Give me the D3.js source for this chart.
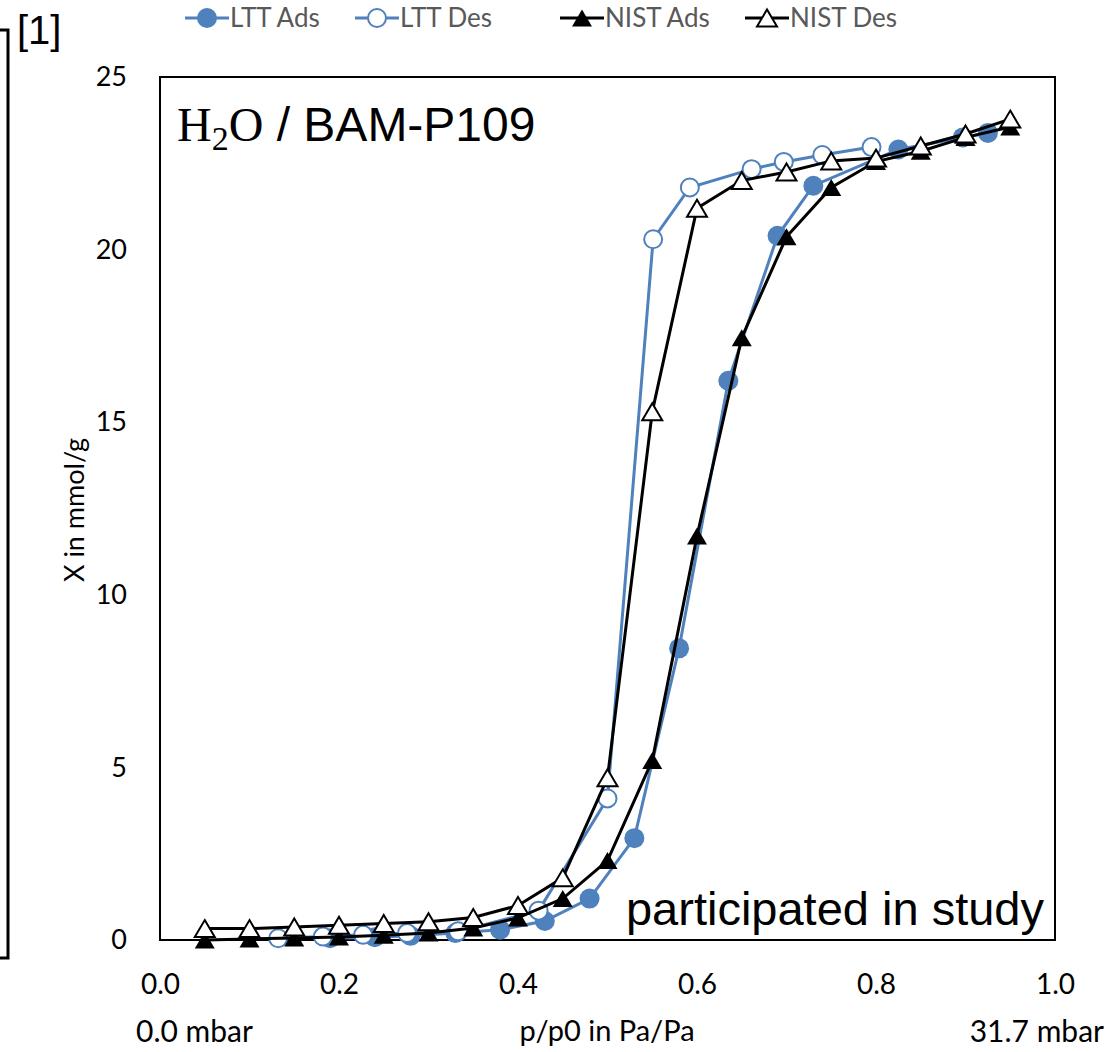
<!DOCTYPE html>
<html>
<head>
<meta charset="utf-8">
<script src="https://d3js.org/d3.v7.min.js"></script>
<style>
  body { margin:0; background:#fff; }
  svg text { font-family: Lato, "Open Sans", sans-serif; }
</style>
</head>
<body>
<div id="chart"></div>
<script>
// data
var lttAdsX = [0.19, 0.24, 0.28, 0.33, 0.38, 0.43, 0.48, 0.53, 0.58, 0.635, 0.69, 0.73, 0.825, 0.897, 0.925];
var lttAdsY = [0.05, 0.08, 0.12, 0.2, 0.3, 0.55, 1.2, 2.95, 8.45, 16.2, 20.4, 21.85, 22.9, 23.25, 23.38];

var lttDesX = [0.132, 0.182, 0.227, 0.276, 0.333, 0.423, 0.50, 0.551, 0.592, 0.661, 0.697, 0.74, 0.795];
var lttDesY = [0.05, 0.1, 0.15, 0.2, 0.25, 0.85, 4.1, 20.3, 21.8, 22.33, 22.54, 22.74, 22.97];

var nistX = [0.05, 0.10, 0.15, 0.20, 0.25, 0.30, 0.35, 0.40, 0.45, 0.50, 0.55, 0.60, 0.65, 0.70, 0.75, 0.80, 0.85, 0.90, 0.95];
var nistAdsY = [0.0, 0.03, 0.06, 0.09, 0.14, 0.2, 0.35, 0.64, 1.2, 2.3, 5.2, 11.7, 17.45, 20.37, 21.8, 22.55, 22.85, 23.25, 23.55];
var nistDesY = [0.33, 0.33, 0.38, 0.43, 0.48, 0.53, 0.65, 1.0, 1.8, 4.7, 15.3, 21.2, 22.0, 22.25, 22.57, 22.65, 23.0, 23.35, 23.78];

var legendNames = ["LTT Ads", "LTT Des", "NIST Ads", "NIST Des"];
var yTicks = [0, 5, 10, 15, 20, 25];
var xTicks = [0, 0.2, 0.4, 0.6, 0.8, 1.0];

var W = 1109, H = 1052;
var blue = "#4f81bd";

var svg = d3.select("#chart").append("svg")
  .attr("width", W).attr("height", H);

var x = d3.scaleLinear().domain([0, 1]).range([160, 1055]);
var y = d3.scaleLinear().domain([0, 25]).range([940, 77]);

// plot frame
svg.append("rect")
  .attr("x", x(0)).attr("y", y(25))
  .attr("width", x(1) - x(0)).attr("height", y(0) - y(25))
  .attr("fill", "none").attr("stroke", "#000").attr("stroke-width", 2);

// axes
var gy = svg.append("g")
  .attr("transform", "translate(" + x(0) + ",0)")
  .call(d3.axisLeft(y).tickValues(yTicks).tickSize(0).tickPadding(33));
gy.select(".domain").remove();
gy.selectAll("text").style("font-size", "27px").style("fill", "#000")
  .style("font-family", "Lato, sans-serif");

var gx = svg.append("g")
  .attr("transform", "translate(0," + y(0) + ")")
  .call(d3.axisBottom(x).tickValues(xTicks).tickSize(0).tickPadding(34).tickFormat(d3.format(".1f")));
gx.select(".domain").remove();
gx.selectAll("text").style("font-size", "28px").style("fill", "#000")
  .style("font-family", "Lato, sans-serif");

// axis titles
svg.append("text")
  .attr("transform", "translate(84,510) rotate(-90)")
  .attr("text-anchor", "middle")
  .style("font-size", "27px")
  .text("X in mmol/g");

svg.append("text")
  .attr("x", 607).attr("y", 1041)
  .attr("text-anchor", "middle")
  .style("font-size", "29px")
  .text("p/p0 in Pa/Pa");

svg.append("text")
  .attr("x", 136).attr("y", 1042)
  .style("font-size", "30px")
  .text("0.0 mbar");

svg.append("text")
  .attr("x", 1104).attr("y", 1042)
  .attr("text-anchor", "end")
  .style("font-size", "30px")
  .text("31.7 mbar");

// triangle centred on its bounding box, like the spreadsheet marker
function tri(w, h) {
  var p = d3.path();
  p.moveTo(0, -h / 2);
  p.lineTo(w / 2, h / 2);
  p.lineTo(-w / 2, h / 2);
  p.closePath();
  return p.toString();
}

var line = d3.line().x(function(d) { return x(d[0]); }).y(function(d) { return y(d[1]); });

var series = [
  {xs: lttAdsX, ys: lttAdsY, color: blue, marker: "dot"},
  {xs: lttDesX, ys: lttDesY, color: blue, marker: "ring"},
  {xs: nistX, ys: nistAdsY, color: "#000", marker: "triFill"},
  {xs: nistX, ys: nistDesY, color: "#000", marker: "triOpen"}
];

function drawMarker(g, type, color) {
  if (type == "dot") {
    g.append("circle").attr("r", 10).attr("fill", color);
  } else if (type == "ring") {
    g.append("circle").attr("r", 9).attr("fill", "#fff")
      .attr("stroke", color).attr("stroke-width", 2);
  } else if (type == "triFill") {
    g.append("path").attr("d", tri(20, 17)).attr("fill", "#000");
  } else {
    g.append("path").attr("d", tri(20, 17)).attr("fill", "#fff")
      .attr("stroke", "#000").attr("stroke-width", 2);
  }
}

series.forEach(function(s) {
  var pts = s.xs.map(function(v, i) { return [v, s.ys[i]]; });
  svg.append("path")
    .datum(pts)
    .attr("d", line)
    .attr("fill", "none")
    .attr("stroke", s.color)
    .attr("stroke-width", 3);
  pts.forEach(function(p) {
    var g = svg.append("g").attr("transform", "translate(" + x(p[0]) + "," + y(p[1]) + ")");
    drawMarker(g, s.marker, s.color);
  });
});

// legend
var legX = [185, 355, 560, 745];
legendNames.forEach(function(name, i) {
  var s = series[i];
  var g = svg.append("g").attr("transform", "translate(" + legX[i] + ",18)");
  g.append("line").attr("x1", 0).attr("x2", 44).attr("y1", 0).attr("y2", 0)
    .attr("stroke", s.color).attr("stroke-width", 3);
  var m = g.append("g").attr("transform", "translate(22,0)");
  drawMarker(m, s.marker, s.color);
  g.append("text").attr("x", 45).attr("y", 9)
    .style("font-size", "26px").style("fill", "#595959")
    .text(name);
});

// annotations inside plot
var title = svg.append("text").attr("x", 177).attr("y", 141).style("font-size", "48px");
title.append("tspan").style("font-family", "'Liberation Serif', serif").text("H");
title.append("tspan").style("font-family", "'Liberation Serif', serif").attr("dy", 9).style("font-size", "34px").text("2");
title.append("tspan").style("font-family", "'Liberation Serif', serif").attr("dy", -9).text("O");
title.append("tspan").style("font-family", "'Liberation Sans', Arial, sans-serif").text(" / BAM-P109");

svg.append("text")
  .attr("x", 1044).attr("y", 925)
  .attr("text-anchor", "end")
  .style("font-family", "'Liberation Sans', Arial, sans-serif")
  .style("font-size", "47px")
  .text("participated in study");

// reference bracket on the left
svg.append("path")
  .attr("d", "M0,30 H8 V958 H0")
  .attr("fill", "none").attr("stroke", "#000").attr("stroke-width", 3);

svg.append("text")
  .attr("x", 17).attr("y", 44)
  .style("font-family", "'Liberation Sans', Arial, sans-serif")
  .style("font-size", "40px")
  .text("[1]");
</script>
</body>
</html>
